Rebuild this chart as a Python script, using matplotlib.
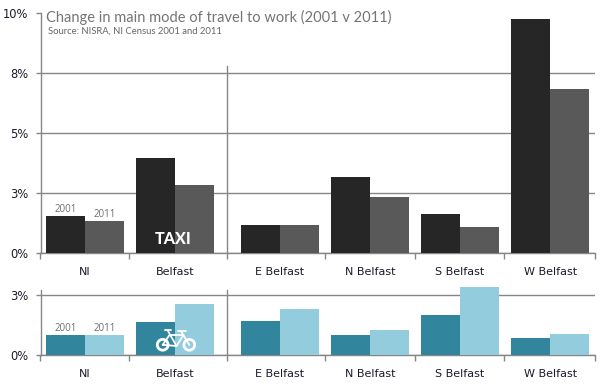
import numpy as np
import matplotlib.pyplot as plt
from matplotlib.patches import Circle

areas = ['NI', 'Belfast', 'E Belfast', 'N Belfast', 'S Belfast', 'W Belfast']
# x position of each area, E Belfast onwards sits slightly further right
area_pos = [0, 1, 2.167, 3.167, 4.167, 5.167]
tick_pos = [-0.494, 0.494, 1.583, 2.667, 3.667, 4.656, 5.66]
y_ticks = [0, 2.5, 5, 7.5, 10]
y_labels = ['0%', '3%', '5%', '8%', '10%']

taxi_2001 = [1.54, 3.96, 1.17, 3.17, 1.63, 9.75]
taxi_2011 = [1.33, 2.83, 1.17, 2.33, 1.08, 6.83]
bike_2001 = [0.83, 1.38, 1.42, 0.83, 1.67, 0.71]
bike_2011 = [0.83, 2.13, 1.92, 1.04, 2.83, 0.88]

GREY = '#868686'
TEXT = '#1a1a2a'
W, H = 600, 384


def setup_axes(rect, ylim, spine_top, sep_top, ticks, labels):
    # rect is left, top, right, bottom in pixels
    l, t, r, b = rect
    ax = fig.add_axes([l / W, 1 - b / H, (r - l) / W, (b - t) / H])
    ax.set_xlim(tick_pos[0], tick_pos[-1])
    ax.set_ylim(*ylim)
    ax.set_axisbelow(True)
    for s in ['top', 'right']:
        ax.spines[s].set_visible(False)
    for s in ['left', 'bottom']:
        ax.spines[s].set_color(GREY)
        ax.spines[s].set_linewidth(1.0)
    ax.spines['left'].set_bounds(0, spine_top)
    ax.set_yticks(ticks)
    ax.set_yticklabels(labels, fontsize=8.3, color=TEXT)
    ax.set_xticks(tick_pos)
    ax.set_xticklabels([])
    ax.set_xticks(area_pos, minor=True)
    ax.set_xticklabels(areas, minor=True, fontsize=8, color=TEXT)
    ax.tick_params(axis='x', which='major', length=4, width=1.0, color=GREY)
    ax.tick_params(axis='x', which='minor', length=0, pad=10)
    ax.tick_params(axis='y', length=3.5, width=1.0, color=GREY, pad=5.5)
    ax.grid(axis='y', color=GREY, linewidth=1.0)
    ax.plot([tick_pos[2], tick_pos[2]], [0, sep_top], color=GREY, linewidth=1.0,
            zorder=1)
    return ax


def add_bars(ax, first, second, c1, c2):
    x = np.array(area_pos)
    width = 0.4333
    b1 = ax.bar(x - width / 2, first, width, color=c1, zorder=3)
    b2 = ax.bar(x + width / 2, second, width, color=c2, zorder=3)
    # only the NI bars carry the year labels
    for rect, year in [(b1[0], '2001'), (b2[0], '2011')]:
        ax.annotate(year, (rect.get_x() + rect.get_width() / 2, rect.get_height()),
                    xytext=(0, 0.8), textcoords='offset points', ha='center',
                    va='bottom', fontsize=7, color='#6e6e6e', family='Open Sans')


fig = plt.figure(figsize=(6, 3.84), dpi=100)

ax_top = setup_axes((40.5, 13, 594.5, 253.3), (0, 10), 10, 7.8, y_ticks, y_labels)
ax_top.get_ygridlines()[-1].set_visible(False)  # no rule behind the title
add_bars(ax_top, taxi_2001, taxi_2011, '#262626', '#595959')

ax_bot = setup_axes((40.5, 285, 594.5, 355), (0, 70 / 24), 65 / 24, 65 / 24,
                    [0, 2.5], ['0%', '3%'])
add_bars(ax_bot, bike_2001, bike_2011, '#31859c', '#93cddd')

fig.text(46 / W, 1 - 17.5 / H, 'Change in main mode of travel to work (2001 v 2011)',
         fontsize=10.55, color='#757575', family='Lato', va='center')
fig.text(48 / W, 1 - 31.5 / H, 'Source: NISRA, NI Census 2001 and 2011',
         fontsize=6.8, color='#666666', family='Lato', va='center')
fig.text(173 / W, 1 - 239.5 / H, 'TAXI', fontsize=11.5, color='white', family='Lato',
         weight='black', ha='center', va='center', zorder=10)

# bike icon on a pixel overlay
icon = fig.add_axes([0, 0, 1, 1], zorder=5)
icon.set_xlim(0, W)
icon.set_ylim(H, 0)
icon.axis('off')
for cx in [162.7, 189.3]:
    icon.add_patch(Circle((cx, 344.8), 5.4, fill=False, edgecolor='white', linewidth=2.0))
bike_lines = [
    ([162.7, 169.5, 183.5, 176.5, 162.7], [344.8, 335, 335, 346, 344.8]),
    ([168, 176.5], [331, 346]),
    ([164.5, 171], [330, 330]),
    ([181, 189.3], [331, 345]),
    ([178, 186], [331, 331]),
]
for xs, ys in bike_lines:
    icon.plot(xs, ys, color='white', linewidth=1.3, solid_capstyle='round')

fig.savefig('out.png', dpi=100)
